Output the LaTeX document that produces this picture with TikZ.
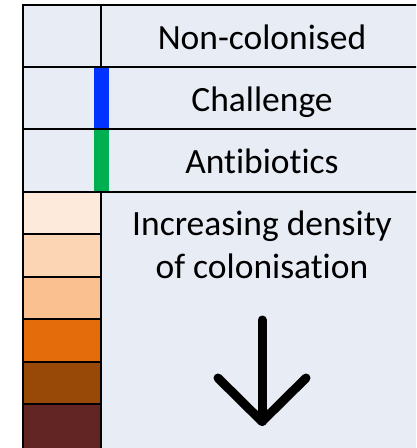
\documentclass[tikz,border=0pt]{standalone}
\usepackage{fontspec}
\setmainfont{Carlito}[Ligatures=NoCommon]
\definecolor{bg}{HTML}{E8ECF5}
\definecolor{barblue}{HTML}{0033FF}
\definecolor{bargreen}{HTML}{00B050}
\definecolor{sA}{HTML}{FDEADA}
\definecolor{sB}{HTML}{FCD5B5}
\definecolor{sC}{HTML}{FAC090}
\definecolor{sD}{HTML}{E46C0A}
\definecolor{sE}{HTML}{984807}
\definecolor{sF}{HTML}{632523}
\begin{document}
\begin{tikzpicture}[x=1pt,y=-1pt,
  grid/.style={line width=2pt, draw=black},
  lbl/.style={font=\fontsize{35.5}{43}\selectfont, anchor=base, inner sep=0pt, align=center},
  arrowline/.style={line width=9pt, line cap=round, line join=round}]
\useasboundingbox (0,0) rectangle (416,448);
\clip (0,0) rectangle (416,448);
\fill[bg] (22.5,5) rectangle (430,460);
% swatches
\fill[sA] (22.5,192) rectangle (101,234.4);
\fill[sB] (22.5,234.4) rectangle (101,276.8);
\fill[sC] (22.5,276.8) rectangle (101,319.2);
\fill[sD] (22.5,319.2) rectangle (101,361.6);
\fill[sE] (22.5,361.6) rectangle (101,404);
\fill[sF] (22.5,404) rectangle (101,460);
% bars
\fill[barblue] (94,67) rectangle (109,129);
\fill[bargreen] (94,129) rectangle (109,192);
% grid
\draw[grid] (22.5,460) -- (22.5,5) -- (430,5);
\draw[grid] (22.5,67) -- (430,67);
\draw[grid] (22.5,129) -- (430,129);
\draw[grid] (22.5,192) -- (430,192);
\draw[grid] (101,5) -- (101,67);
\draw[grid] (101,192) -- (101,460);
\foreach \y in {234.4,276.8,319.2,361.6,404} \draw[grid] (22.5,\y) -- (101,\y);
% labels
\node[lbl] (non) at (262,49) {Non-colonised};
\node[lbl] (chal) at (262,111) {Challenge};
\node[lbl] (anti) at (262,173) {Antibiotics};
\node[lbl] (incr) at (262,278) {Increasing density\\of colonisation};
% arrow
\coordinate (atop) at (262,320);
\coordinate (atip) at (262,421.5);
\coordinate (aleft) at (218,378);
\coordinate (aright) at (306,378);
\draw[arrowline] (atop) -- (atip);
\draw[arrowline] (aleft) -- (atip) -- (aright);
\end{tikzpicture}
\end{document}
